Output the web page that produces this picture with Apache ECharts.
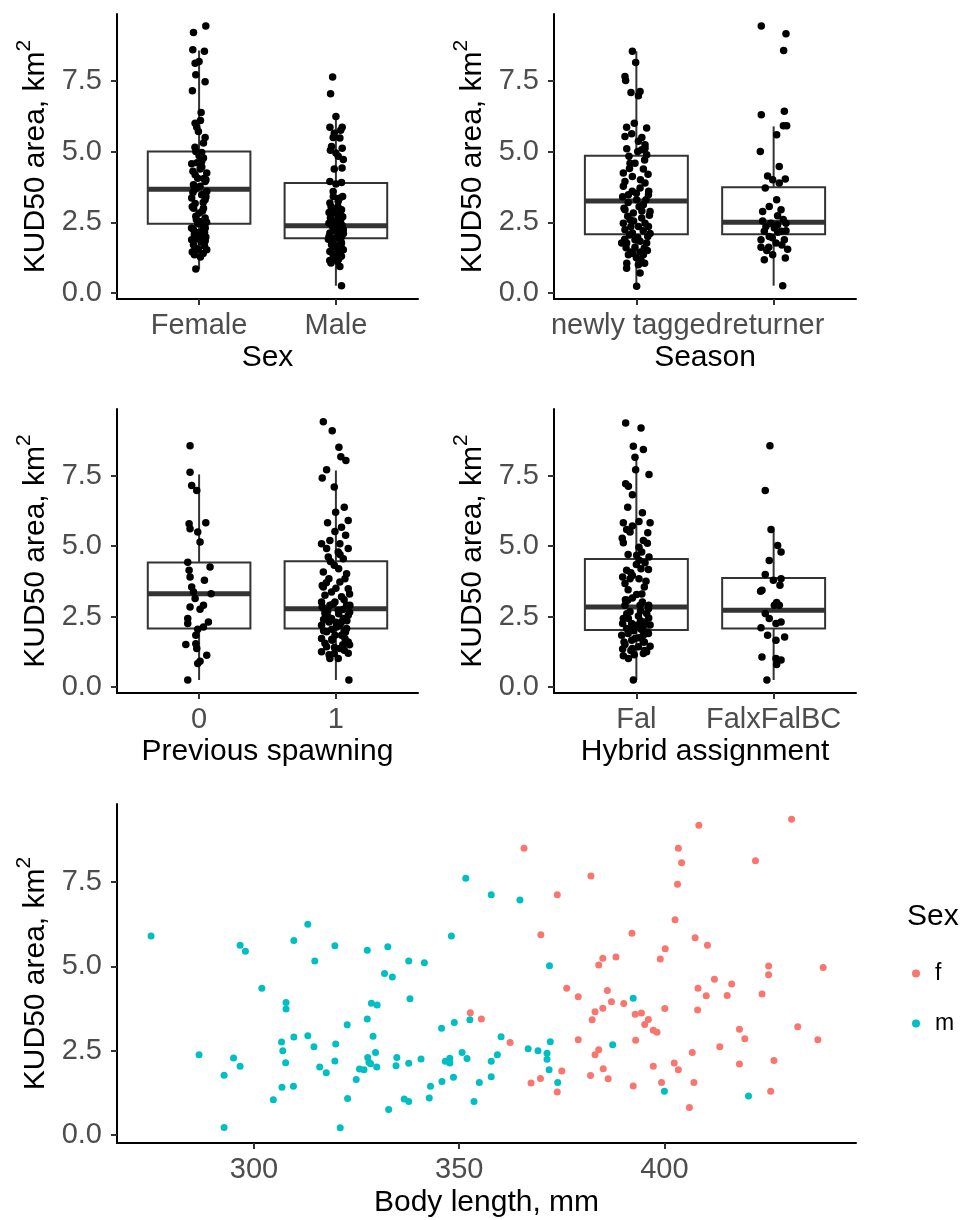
<!DOCTYPE html>
<html>
<head>
<meta charset="utf-8">
<script src="https://cdn.jsdelivr.net/npm/echarts@6/dist/echarts.min.js"></script>
<style>
html, body { margin: 0; padding: 0; background: #fff; }
#chart { width: 973px; height: 1220px; }
</style>
</head>
<body>
<div id="chart"></div>
<script>
'use strict';

var FONT = '"Liberation Sans", Arial, sans-serif';

// categories and tick labels
var sexCats = ['Female', 'Male'];
var seasonCats = ['newly tagged', 'returner'];
var spawnCats = ['0', '1'];
var hybridCats = ['Fal', 'FalxFalBC'];
var yTicks = [0, 2.5, 5, 7.5];
var lenTicks = [300, 350, 400];

// box stats: [lower whisker, Q1, median, Q3, upper whisker]
var sexBox = [[0.85, 2.45, 3.67, 5.00, 8.57], [0.26, 1.94, 2.38, 3.89, 6.24]];
var seasonBox = [[0.24, 2.08, 3.25, 4.85, 8.54], [0.26, 2.08, 2.50, 3.74, 5.89]];
var spawnBox = [[0.25, 2.08, 3.31, 4.42, 7.54], [0.25, 2.08, 2.78, 4.46, 7.68]];
var hybridBox = [[0.25, 2.02, 2.84, 4.54, 8.15], [0.25, 2.08, 2.72, 3.87, 5.55]];

// jittered points: [offset from category, KUD50]
var femalePts = [[0.049,9.44],[-0.041,9.21],[-0.046,8.60],[0.039,8.54],[-0.029,8.12],[0,8.18],[-0.024,7.71],[0.044,7.47],
  [-0.049,7.15],[0.015,6.38],[-0.029,6.00],[-0.017,5.86],[-0.005,5.71],[0.044,5.50],[0.032,5.30],[-0.024,5.00],[0.019,4.97],
  [-0.054,4.57],[0.019,4.65],[0.007,4.38],[0.056,4.24],[-0.029,4.18],[0.044,3.94],[-0.041,3.83],[0.007,3.77],[0.056,3.59],
  [0.019,3.47],[-0.054,3.36],[0.044,3.30],[-0.029,3.16],[0.032,3.00],[0,2.83],[-0.024,2.71],[0.019,2.53],[-0.041,2.24],
  [0,2.14],[0.049,1.98],[-0.024,1.91],[-0.041,1.71],[0.039,1.67],[-0.005,1.55],[0.056,1.53],[-0.034,1.35],[0.010,1.27],
  [-0.024,0.85],[0.032,4.77],[-0.01,4.06],[-0.034,3.65],[0.044,2.65],[-0.054,1.88],[0.019,1.88],[0.032,2.33],
  [0.02,4.45],[-0.045,4.3],[0.035,4.05],[-0.02,3.7],[0.05,3.4],[-0.05,3.05],[0.025,2.9],[-0.01,2.45],[0.045,2.3],
  [-0.035,2.05],[0.015,1.8],[-0.05,1.45],[0.03,1.4],[0,4.85],[-0.03,5.15],[0.01,6.1],[-0.04,3.0],[0.04,2.15],
  [-0.015,4.6],[0.05,4.0],[-0.045,3.55],[0.03,3.2],[-0.02,2.6],[0.055,2.5],[-0.055,2.3],[0.01,2.0],[-0.03,1.6],[0.045,1.85]];
var malePts = [[-0.024,7.63],[-0.039,7.04],[0,6.24],[-0.044,5.86],[0.046,5.86],[-0.012,5.65],[0.029,5.48],[-0.032,5.18],
  [0.046,5.12],[0.017,4.83],[-0.012,4.38],[0.054,4.72],[-0.044,3.94],[0.041,3.91],[-0.019,3.41],[0.017,3.24],[-0.044,3.18],
  [0.041,2.94],[-0.007,2.83],[-0.032,2.59],[0.029,2.47],[-0.012,2.33],[0.054,2.24],[-0.044,2.12],[0.017,2.06],[-0.027,1.88],
  [0.041,1.77],[-0.007,1.62],[-0.044,1.47],[0.029,1.41],[-0.012,1.24],[0.029,0.94],[0.041,0.26],[-0.032,2.94],[0.017,2.71],
  [-0.051,2.47],[0.005,2.24],[0.041,2.0],[-0.032,1.71],[0.012,1.12],[-0.036,1.06],[0.054,1.53],[-0.02,3.59],[0.049,3.41],
  [-0.02,2.9],[0.03,2.8],[-0.04,2.65],[0.01,2.55],[0.045,2.4],[-0.015,2.2],[0.025,2.15],[-0.05,2.0],[0,1.95],[0.035,1.85],
  [-0.03,1.8],[0.01,1.5],[-0.02,1.35],[0.04,1.3],[-0.045,1.15],[0.02,1.45],[-0.005,2.45],[0.05,2.7],[-0.035,3.05],
  [0.025,3.35],[0,3.85],[-0.02,5.5],[0.035,5.75],[0,4.95],[-0.04,5.05],[0.045,4.42],
  [0.015,3.05],[-0.05,2.85],[0.035,2.6],[-0.025,2.35],[0.055,2.1],[-0.01,1.7],[0.02,1.2],[-0.03,2.5],[0.04,1.6],[-0.055,1.9]];
var newlyPts = [[-0.029,8.54],[-0.005,8.15],[-0.083,7.65],[-0.078,7.51],[-0.039,7.09],[0.027,7.12],[0.015,6.97],[-0.015,6.00],
  [-0.071,5.86],[0.075,5.83],[-0.083,5.53],[-0.034,5.63],[0.015,5.36],[0.063,5.24],[0.039,5.06],[0.075,4.89],[-0.054,4.83],
  [-0.01,4.59],[0.051,4.38],[-0.095,4.24],[-0.029,4.12],[0.063,3.89],[-0.095,3.77],[0.027,3.71],[-0.058,3.47],[0.088,3.47],
  [0.002,3.30],[0.051,3.12],[-0.083,2.94],[0.1,2.88],[-0.022,2.83],[-0.046,2.59],[0.063,2.47],[0.015,2.35],[-0.083,2.24],
  [-0.029,2.12],[0.083,2.00],[0.027,1.83],[-0.071,1.77],[-0.01,1.62],[0.058,1.59],[-0.058,1.35],[0.034,1.15],[0.015,1.00],
  [-0.071,0.88],[0.027,0.71],[0.002,0.24],[0.063,5.12],[-0.063,2.71],[0.039,2.65],[-0.095,2.47],[0.088,2.35],[-0.01,1.88],
  [0.075,1.77],[-0.107,1.77],[-0.029,1.41],[0.051,1.35],[0,3.53],[-0.083,3.94],[-0.046,4.59],
  [0.07,3.3],[-0.06,3.2],[0.02,3.05],[-0.09,3.0],[0.095,2.75],[-0.02,2.55],[0.05,2.2],[-0.05,2.05],[0.01,1.95],[-0.085,1.9],
  [0.08,1.5],[-0.04,1.45],[0,1.25],[-0.07,1.05],[0.06,1.05],[0.03,4.0],[-0.03,3.6],[0.06,4.7],[-0.07,5.1],[0.04,5.5],
  [0.09,3.6],[-0.1,3.4],[0.04,2.9],[-0.04,2.35],[0.1,2.1],[-0.075,1.6],[0.03,1.45],[0.085,4.2],[-0.05,4.4],[0.01,5.0]];
var returnerPts = [[-0.09,9.44],[0.09,9.16],[0.073,8.57],[-0.09,6.30],[0.078,6.42],[0.071,5.91],[0.095,5.91],[0.022,5.59],
  [-0.097,5.00],[0.041,4.47],[-0.044,4.14],[-0.007,4.00],[0.085,4.03],[0.041,3.89],[-0.061,3.71],[0.022,3.30],[-0.032,3.06],
  [0.054,2.94],[-0.08,2.88],[0.029,2.73],[0.09,2.47],[-0.056,2.35],[0.005,2.30],[0.054,2.18],[-0.032,2.00],[-0.092,1.88],
  [0.078,1.88],[0.017,1.77],[-0.092,1.62],[-0.036,1.62],[0.102,1.55],[-0.007,1.35],[-0.068,1.18],[0.085,1.24],[0.066,0.26],
  [-0.02,2.47],[0.029,2.41],[-0.068,2.18],[0.07,2.6],[-0.08,2.55],[0.03,2.15],[-0.01,1.95],[0.06,1.7],[-0.05,1.5],[0.09,2.2]];
var spawn0Pts = [[-0.066,8.56],[-0.066,7.62],[-0.054,7.15],[-0.017,6.97],[-0.073,5.79],[0.049,5.83],[-0.066,5.61],[-0.01,5.50],
  [0.007,5.14],[-0.083,4.43],[0.08,4.26],[-0.073,4.14],[-0.066,3.90],[0.039,3.79],[-0.054,3.55],[-0.041,3.37],[0.088,3.31],
  [-0.029,3.14],[-0.066,2.84],[0.032,2.90],[0.007,2.76],[-0.083,2.43],[-0.083,2.25],[0.068,2.31],[0.032,2.13],[-0.01,2.05],
  [-0.024,1.84],[-0.097,1.51],[-0.024,1.54],[-0.017,1.37],[0.056,1.13],[0.007,0.92],[-0.01,0.84],[-0.083,0.25]];
var spawn1Pts = [[-0.092,9.41],[-0.027,9.09],[0.022,8.50],[0.036,8.17],[0.073,8.03],[-0.068,7.71],[-0.1,7.41],[-0.012,7.09],
  [0.061,6.38],[-0.002,6.20],[-0.061,5.83],[0.09,5.91],[0.041,5.67],[-0.007,5.52],[0.071,5.38],[-0.044,5.20],[-0.105,5.08],
  [0.029,5.08],[0.09,4.91],[-0.056,4.61],[0.054,4.55],[-0.012,4.32],[-0.092,4.08],[0.078,4.02],[-0.051,3.84],[0.029,3.73],
  [-0.092,3.55],[0.09,3.49],[-0.032,3.37],[0.041,3.20],[-0.105,3.02],[-0.044,2.90],[0.078,2.90],[0.017,2.72],[-0.08,2.61],
  [0.09,2.55],[-0.032,2.43],[0.041,2.31],[-0.105,2.19],[0.005,2.13],[0.078,2.08],[-0.068,1.96],[0.041,1.84],[-0.105,1.72],
  [-0.027,1.66],[0.09,1.60],[-0.068,1.43],[0.029,1.37],[-0.105,1.25],[-0.012,1.19],[0.061,1.31],[-0.044,1.01],[0.017,1.01],
  [0.095,0.25],[-0.068,4.91],[0.017,4.79],[0.066,3.84],[-0.08,3.26],[-0.007,3.02],[0.054,2.43],[-0.051,2.31],[-0.007,1.84],
  [0.066,1.72],[-0.088,2.78],[0.102,2.90],
  [0.02,2.6],[-0.06,2.5],[0.08,2.35],[-0.09,2.4],[0.03,2.2],[-0.03,2.05],[0.07,1.95],[-0.08,1.55],[0.05,1.5],[-0.01,1.4],
  [0.09,1.2],[-0.05,1.15],[0,3.5],[-0.07,3.7],[0.06,3.1],[-0.02,2.95],[0.1,2.65],[-0.1,2.85],[0.02,4.2],[-0.04,4.45],
  [0.1,3.3],[-0.1,3.6],[0.05,2.75],[-0.06,2.7],[0,2.3],[-0.09,2.0],[0.06,2.0],[0.1,1.5],[-0.03,1.7],[0.03,4.7]];
var falPts = [[-0.078,9.36],[0.034,9.19],[-0.022,8.54],[0.051,8.42],[-0.01,8.15],[-0.005,7.71],[0.092,7.54],[-0.078,7.21],
  [-0.058,7.12],[-0.029,6.82],[-0.063,6.38],[0.044,6.18],[-0.095,5.83],[0.019,5.87],[0.1,5.83],[-0.071,5.59],[-0.029,5.71],
  [0.083,5.47],[-0.103,5.28],[-0.095,5.12],[0.051,5.20],[0.019,4.96],[0.092,4.61],[0.039,4.79],[-0.071,4.14],[0.034,4.20],
  [0.063,4.41],[0.088,4.17],[-0.029,3.96],[-0.083,3.67],[0.019,3.84],[0.058,3.55],[0.002,3.28],[-0.029,3.16],[-0.083,2.90],
  [0.044,3.02],[0.088,2.78],[-0.046,2.67],[0.015,2.52],[-0.095,2.43],[0.063,2.31],[-0.034,2.25],[-0.071,2.08],[0.034,2.05],
  [0.088,1.90],[-0.107,1.84],[-0.01,1.72],[0.058,1.60],[-0.083,1.51],[-0.029,1.37],[0.075,1.25],[-0.095,1.11],[-0.058,1.01],
  [0.051,1.19],[-0.022,0.25],[-0.046,5.50],[0.002,4.67],[-0.046,3.84],[0.027,2.90],[-0.058,2.43],[0.002,2.19],[0.051,1.84],
  [-0.034,1.66],[0.015,1.43],[-0.063,3.08],[0.075,2.61],
  [0.03,2.7],[-0.07,2.6],[0.09,2.45],[-0.1,2.25],[0.05,2.15],[-0.02,2.0],[0.08,1.95],[-0.06,1.9],[0.02,1.75],[-0.09,1.6],
  [0.1,1.45],[-0.04,1.3],[0.06,1.3],[-0.015,1.15],[0.04,3.3],[-0.06,3.45],[0.07,3.75],[-0.1,3.9],[0,4.35],[-0.04,4.05],
  [0.09,2.9],[-0.08,3.1],[0.03,2.35],[-0.05,2.05],[0.1,2.2],[-0.1,1.35],[0.05,1.6],[0.02,4.5],[-0.06,4.7],[0.08,5.1]];
var hybridPts = [[-0.027,8.56],[-0.061,6.97],[-0.019,5.59],[0.029,5.02],[0.054,4.79],[-0.032,4.49],[-0.061,3.99],[0.054,3.84],
  [-0.002,3.79],[-0.085,3.43],[0.046,3.61],[0.022,3.00],[0.041,2.90],[-0.061,2.61],[-0.032,2.43],[-0.092,2.10],[0.017,2.25],
  [-0.044,1.84],[0.08,1.78],[0.017,1.66],[-0.085,1.07],[0.017,1.01],[0.054,0.96],[0.022,0.80],[-0.049,0.25],[-0.095,3.40],
  [0.054,2.31],[0.005,2.90]];

// scatter: [body length, KUD50]
var fLenKud = [[352.7,3.63],[355.4,3.44],[365.8,8.50],[408.4,9.18],[431.0,9.36],[403.4,8.50],[404.2,8.07],[422.2,8.13],
  [403.2,7.43],[382.1,7.68],[373.9,7.12],[402.6,6.38],[369.9,5.94],[392.1,5.98],[407.5,5.85],[410.5,5.63],[400.2,5.52],
  [399.0,5.22],[385.0,5.24],[388.2,5.28],[384.0,5.04],[425.4,5.01],[425.4,4.75],[438.7,4.97],[376.2,4.35],[379.0,4.10],
  [386.1,4.29],[387.1,3.95],[385.0,3.76],[383.1,3.66],[382.4,3.42],[390.1,3.90],[392.9,3.58],[394.4,3.62],[396.1,3.43],
  [395.2,3.28],[397.3,3.11],[398.2,3.05],[400.1,3.75],[408.2,4.35],[410.2,4.13],[408.1,3.71],[412.2,4.62],[415.3,4.14],
  [416.4,4.48],[423.8,4.18],[418.3,3.14],[419.6,2.86],[432.5,3.21],[437.4,2.83],[362.4,2.75],[379.0,2.83],[393.0,2.81],
  [384.0,2.53],[383.1,2.38],[406.8,2.45],[413.5,2.62],[426.7,2.21],[397.3,2.04],[402.4,2.14],[403.4,1.94],[418.3,2.11],
  [375.0,1.90],[382.0,1.77],[385.1,1.97],[386.3,1.67],[367.5,1.55],[369.8,1.68],[373.9,1.28],[392.4,1.46],[399.3,1.56],
  [407.2,1.56],[425.9,1.30],[406.1,0.82]];
var mLenKud = [[274.9,5.90],[286.6,2.38],[292.7,1.78],[292.7,0.23],[295.0,2.29],[296.6,2.04],[296.6,5.63],[297.9,5.45],
  [301.9,4.35],[304.7,1.05],[306.7,2.76],[307.0,2.50],[306.8,1.42],[307.8,3.93],[307.8,3.74],[307.7,2.15],[309.7,5.77],
  [309.7,2.91],[309.6,1.45],[313.1,6.25],[313.1,2.95],[314.6,2.62],[314.8,5.16],[316.0,2.02],[317.6,1.85],[319.7,5.61],
  [319.9,2.70],[319.7,2.20],[321.0,0.22],[322.7,3.27],[322.8,1.09],[324.9,1.65],[325.7,1.96],[326.8,1.94],[327.6,5.48],
  [327.6,3.44],[327.7,2.30],[328.0,2.16],[328.6,3.91],[329.0,2.93],[329.6,2.45],[329.9,2.02],[330.0,3.86],[328.4,2.12],
  [331.8,4.79],[332.6,5.58],[332.8,0.76],[333.7,4.69],[334.6,2.06],[334.8,2.30],[336.6,1.07],[337.7,1.00],[337.7,5.16],
  [338.0,4.04],[337.7,2.13],[340.7,2.26],[341.5,5.11],[342.7,1.10],[343.0,1.45],[345.7,3.17],[345.8,1.59],[346.6,2.19],
  [347.6,2.19],[347.7,2.28],[348.1,5.90],[347.7,2.14],[348.8,3.34],[348.6,1.72],[350.7,2.45],[351.6,7.61],[351.9,2.27],
  [352.6,3.42],[353.6,1.00],[354.9,1.56],[357.8,7.12],[357.8,2.19],[357.8,1.73],[359.3,2.38],[360.2,2.92],[364.8,6.97],
  [372.0,5.02],[392.4,4.06],[366.8,2.56],[369.2,2.50],[371.4,2.43],[371.4,2.25],[372.2,2.77],[371.9,1.94],[374.0,1.56],
  [387.4,2.68],[400.0,1.30],[420.5,1.16]];

var yTitle = 'KUD50 area, km{sup|2}';
var titleStyle = {
  fontFamily: FONT, fontSize: 30, color: '#000',
  rich: { sup: { fontFamily: FONT, fontSize: 21, color: '#000', verticalAlign: 'top', padding: [0, 0, 22, 0] } }
};
var axisLineStyle = { show: true, onZero: false, lineStyle: { color: '#000', width: 2 } };
var tickStyle = { color: '#333', width: 2 };
var labelStyle = { fontFamily: FONT, fontSize: 29, color: '#4d4d4d' };

var grids = [
  { left: 117, top: 14, width: 301, height: 285 },
  { left: 554, top: 14, width: 302, height: 285 },
  { left: 117, top: 409, width: 301, height: 284 },
  { left: 554, top: 409, width: 302, height: 284 },
  { left: 117, top: 804, width: 739, height: 339 }
];

var panels = [
  { cats: sexCats, box: sexBox, pts: [femalePts, malePts], title: 'Sex' },
  { cats: seasonCats, box: seasonBox, pts: [newlyPts, returnerPts], title: 'Season' },
  { cats: spawnCats, box: spawnBox, pts: [spawn0Pts, spawn1Pts], title: 'Previous spawning' },
  { cats: hybridCats, box: hybridBox, pts: [falPts, hybridPts], title: 'Hybrid assignment' }
];

function makeYAxis(g, min, max) {
  return {
    gridIndex: g, type: 'value', min: min, max: max,
    name: yTitle, nameLocation: 'middle', nameRotate: 90, nameGap: 60,
    nameTextStyle: titleStyle,
    axisLine: axisLineStyle,
    axisTick: { show: true, customValues: yTicks, length: 6, lineStyle: tickStyle },
    axisLabel: Object.assign({ customValues: yTicks, margin: 15, formatter: function (v) { return v.toFixed(1); } }, labelStyle),
    splitLine: { show: false }
  };
}

function renderBox(params, api) {
  var x = api.value(0);
  var lo = api.coord([x, api.value(1)]);
  var q1 = api.coord([x, api.value(2)]);
  var md = api.coord([x, api.value(3)]);
  var q3 = api.coord([x, api.value(4)]);
  var hi = api.coord([x, api.value(5)]);
  var left = api.coord([x - 0.375, api.value(3)])[0];
  var right = api.coord([x + 0.375, api.value(3)])[0];
  var st = { stroke: '#333333', lineWidth: 2 };
  return {
    type: 'group',
    children: [
      { type: 'line', shape: { x1: lo[0], y1: lo[1], x2: q1[0], y2: q1[1] }, style: st },
      { type: 'line', shape: { x1: q3[0], y1: q3[1], x2: hi[0], y2: hi[1] }, style: st },
      { type: 'rect', shape: { x: left, y: q3[1], width: right - left, height: q1[1] - q3[1] },
        style: { stroke: '#333333', lineWidth: 2, fill: '#fff' } },
      { type: 'line', shape: { x1: left, y1: md[1], x2: right, y2: md[1] }, style: { stroke: '#333333', lineWidth: 5 } }
    ]
  };
}

var xAxes = [], yAxes = [], series = [];

panels.forEach(function (p, g) {
  xAxes.push({
    gridIndex: g, type: 'value', min: 0.4, max: 2.6,
    name: p.title, nameLocation: 'middle', nameGap: 44,
    nameTextStyle: { fontFamily: FONT, fontSize: 30, color: '#000' },
    axisLine: axisLineStyle,
    axisTick: { show: true, customValues: [1, 2], length: 6, lineStyle: tickStyle },
    axisLabel: Object.assign({ customValues: [1, 2], margin: 12, formatter: function (v) { return p.cats[Math.round(v) - 1]; } }, labelStyle),
    splitLine: { show: false }
  });
  yAxes.push(makeYAxis(g, -0.21, 9.86));

  var boxData = p.box.map(function (b, i) { return [i + 1].concat(b); });
  series.push({
    type: 'custom', xAxisIndex: g, yAxisIndex: g, z: 2,
    renderItem: renderBox,
    encode: { x: 0, y: [1, 2, 3, 4, 5] },
    data: boxData
  });
  p.pts.forEach(function (grp, i) {
    series.push({
      type: 'scatter', xAxisIndex: g, yAxisIndex: g, z: 3,
      symbolSize: 7.5, itemStyle: { color: '#000', opacity: 1 },
      data: grp.map(function (d) { return [i + 1 + d[0], d[1]]; })
    });
  });
});

// body length scatter
xAxes.push({
  gridIndex: 4, type: 'value', min: 266.6, max: 446.7,
  name: 'Body length, mm', nameLocation: 'middle', nameGap: 45,
  nameTextStyle: { fontFamily: FONT, fontSize: 30, color: '#000' },
  axisLine: axisLineStyle,
  axisTick: { show: true, customValues: lenTicks, length: 6, lineStyle: tickStyle },
  axisLabel: Object.assign({ customValues: lenTicks, margin: 12 }, labelStyle),
  splitLine: { show: false }
});
yAxes.push(makeYAxis(4, -0.23, 9.81));

series.push({
  name: 'f', type: 'scatter', xAxisIndex: 4, yAxisIndex: 4, z: 3,
  symbolSize: 7, itemStyle: { color: '#F8766D', opacity: 1 }, data: fLenKud
});
series.push({
  name: 'm', type: 'scatter', xAxisIndex: 4, yAxisIndex: 4, z: 3,
  symbolSize: 7, itemStyle: { color: '#00BFC4', opacity: 1 }, data: mLenKud
});

var chart = echarts.init(document.getElementById('chart'));
chart.setOption({
  animation: false,
  backgroundColor: '#fff',
  title: {
    text: 'Sex', left: 902, top: 897,
    textStyle: { fontFamily: FONT, fontSize: 30, fontWeight: 'normal', color: '#000' }
  },
  legend: {
    data: ['f', 'm'], orient: 'vertical', left: 907, top: 957,
    itemWidth: 8, itemHeight: 8, itemGap: 27, icon: 'circle',
    textStyle: { fontFamily: FONT, fontSize: 23, color: '#000', padding: [0, 0, 0, 10] }
  },
  grid: grids,
  xAxis: xAxes,
  yAxis: yAxes,
  series: series
});
</script>
</body>
</html>
